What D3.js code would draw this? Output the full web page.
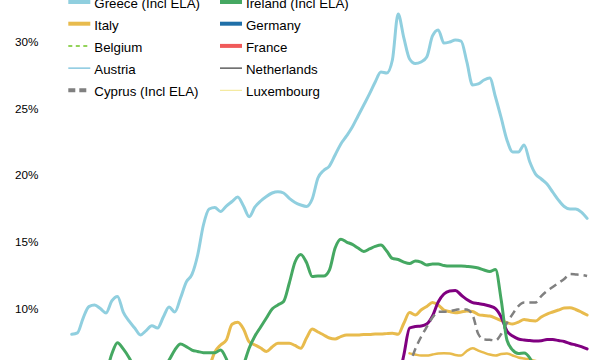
<!DOCTYPE html>
<html><head><meta charset="utf-8">
<script src="https://cdn.jsdelivr.net/npm/d3@7"></script>
<style>html,body{margin:0;padding:0;background:#fff;} svg{display:block;}</style>
</head><body><svg id="chart" width="614" height="360"></svg>
<script>
// ---- data (share of bank assets, %, monthly index) ----
const months = d3.range(0, 91);
const yTicks = [10, 15, 20, 25, 30];

const greeceStart = 0;
const greece = [8.05, 8.16, 9.27, 10.13, 10.25, 9.98, 9.65, 10.55, 10.89, 9.72,
  9.05, 8.52, 8.0, 8.33, 8.69, 8.52, 9.35, 10.1, 9.72, 10.77,
  11.97, 12.54, 14.0, 16.25, 17.45, 17.56, 17.26, 17.67, 18.01, 18.35,
  17.67, 16.87, 17.6, 18.05, 18.39, 18.65, 18.75, 18.65, 18.24, 17.94,
  17.75, 17.64, 18.2, 19.77, 20.34, 20.67, 21.5, 22.33, 22.93, 23.6,
  24.43, 25.25, 26.08, 26.98, 27.73, 27.65, 28.63, 32.08, 30.28, 28.7,
  28.36, 28.48, 28.85, 30.43, 30.88, 29.9, 29.98, 30.13, 30.05, 28.48,
  26.75, 26.83, 27.13, 27.28, 25.85, 24.28, 22.63, 21.73, 21.73, 22.25,
  20.97, 20.07, 19.7, 19.32, 18.72, 18.12, 17.64, 17.45, 17.45, 17.22, 16.75];

const irelandStart = 4;
const ireland = [5.0, 4.9, 5.22, 6.57, 7.42, 6.95, 6.31, 5.52, 5.0, 4.85,
  5.0, 5.37, 5.67, 6.12, 6.87, 7.32, 7.13, 6.87, 6.76, 6.67,
  6.67, 6.67, 6.87, 6.2, 5.0, 4.77, 5.75, 7.02, 7.92, 8.6,
  9.27, 9.95, 10.25, 10.51, 11.9, 13.47, 14.04, 13.44, 12.39, 12.42,
  12.42, 12.87, 14.52, 15.18, 14.97, 14.79, 14.52, 14.26, 14.45, 14.64,
  14.75, 14.3, 13.74, 13.66, 13.47, 13.36, 13.55, 13.47, 13.25, 13.32,
  13.32, 13.21, 13.17, 13.17, 13.17, 13.14, 13.1, 13.02, 12.87, 12.76,
  12.91, 10.62, 7.62, 6.87, 6.61, 6.65, 6.27, 5.37, 5.0, 4.8,
  4.7, 4.6, 4.5, 4.5, 4.4, 4.4, 4.3];

const italyStart = 18;
const italy = [4.2, 4.4, 4.3, 4.5, 4.6, 4.8, 5.6, 6.72, 7.25, 7.62,
  8.8, 8.95, 8.45, 7.47, 7.25, 7.02, 6.76, 7.1, 7.37, 7.37,
  7.37, 7.21, 7.0, 7.77, 8.45, 8.22, 8.0, 7.77, 7.7, 7.88,
  8.0, 8.0, 8.0, 8.03, 8.03, 8.07, 8.07, 8.1, 8.12, 8.05,
  8.88, 9.68, 9.5, 9.87, 10.14, 10.43, 10.25, 9.87, 9.76, 9.67,
  9.72, 9.8, 9.76, 9.53, 9.46, 9.42, 9.27, 9.08, 8.93, 8.82,
  8.97, 9.16, 9.08, 9.05, 9.35, 9.57, 9.72, 9.87, 10.02, 10.04,
  9.91, 9.72, 9.5];

const lowerYellowStart = 59;
const lowerYellow = [6.62, 6.53, 6.46, 6.46, 6.53, 6.61, 6.62, 6.61, 6.5, 6.46,
  6.8, 7.0, 6.83, 6.67, 6.53, 6.46, 6.57, 6.61, 6.46, 6.31,
  6.23, 6.16, 6.05, 5.95, 5.85, 5.8, 5.7, 5.65, 5.6, 5.55, 5.5, 5.45];

const purpleStart = 56;
const purple = [4.0, 4.6, 6.5, 8.52, 8.63, 8.67, 8.82, 9.42, 10.47, 11.07,
  11.3, 11.34, 11.0, 10.66, 10.43, 10.36, 10.28, 10.17, 9.98, 9.35,
  8.3, 7.92, 7.7, 7.62, 7.58, 7.55, 7.57, 7.66, 7.66, 7.58,
  7.51, 7.36, 7.25, 7.13, 6.95];

const cyprusStart = 58;
const cyprus = [4.6, 5.75, 6.95, 7.85, 8.6, 9.31, 9.74, 9.74, 9.8, 9.87,
  9.95, 9.91, 9.5, 8.07, 7.66, 7.64, 7.58, 8.07, 8.9, 9.57,
  10.17, 10.43, 10.43, 10.43, 10.92, 11.3, 11.6, 11.9, 12.2, 12.57,
  12.54, 12.5, 12.42];

const legendCol1 = ["Greece (Incl ELA)", "Italy", "Belgium", "Austria", "Cyprus (Incl ELA)"];
const legendCol2 = ["Ireland (Incl ELA)", "Germany", "France", "Netherlands", "Luxembourg"];

// ---- styles ----
const styles = {
  "Greece (Incl ELA)": {color: "#90cfdf", width: 3, lw: 5},
  "Ireland (Incl ELA)": {color: "#45a862", width: 3, lw: 5},
  "Italy": {color: "#e8bb4d", width: 3, lw: 4},
  "Germany": {color: "#1f6fa8", width: 3, lw: 4},
  "Belgium": {color: "#93d35a", width: 2, lw: 2, dash: "4,4"},
  "France": {color: "#f05a5a", width: 3, lw: 4},
  "Austria": {color: "#4eaed0", width: 1, lw: 1},
  "Netherlands": {color: "#111", width: 1, lw: 1},
  "Cyprus (Incl ELA)": {color: "#808080", width: 2.5, lw: 4, dash: "8,5"},
  "Luxembourg": {color: "#f2e58a", width: 1, lw: 1},
  "Other A": {color: "#e8bb4d", width: 2.5},
  "Other B": {color: "#800080", width: 3}
};

const series = [
  {name: "Greece (Incl ELA)", start: greeceStart, values: greece},
  {name: "Italy", start: italyStart, values: italy},
  {name: "Other A", start: lowerYellowStart, values: lowerYellow},
  {name: "Other B", start: purpleStart, values: purple},
  {name: "Cyprus (Incl ELA)", start: cyprusStart, values: cyprus},
  {name: "Ireland (Incl ELA)", start: irelandStart, values: ireland}
];

// ---- scales ----
const svg = d3.select("#chart");
svg.append("rect").attr("width", 614).attr("height", 360).attr("fill", "#fff");

const x = d3.scaleLinear().domain([0, months.length - 1]).range([71.7, 587.1]);
const y = d3.scaleLinear().domain([0, 30]).range([441.6, 41.7]);

const font = "'Liberation Sans', Arial, sans-serif";

// y axis
const yAxis = d3.axisLeft(y).tickValues(yTicks).tickSize(0).tickPadding(3)
  .tickFormat(d => d + "%");
const gy = svg.append("g").attr("transform", "translate(41.5,0)").call(yAxis);
gy.select(".domain").remove();
gy.selectAll("text").attr("font-family", font).attr("font-size", "11.7px").attr("fill", "#000");

// lines
const line = d3.line()
  .x(d => x(d.i))
  .y(d => y(d.v))
  .curve(d3.curveMonotoneX);

series.forEach(s => {
  const st = styles[s.name];
  const pts = s.values.map((v, k) => ({i: months[s.start + k], v}));
  svg.append("path")
    .datum(pts)
    .attr("d", line)
    .attr("fill", "none")
    .attr("stroke", st.color)
    .attr("stroke-width", st.width)
    .attr("stroke-linejoin", "round")
    .attr("stroke-linecap", st.dash ? "butt" : "round")
    .attr("stroke-dasharray", st.dash || null);
});

// legend
const rowY = k => 1.5 + 22.2 * k;
function drawLegend(names, x0) {
  names.forEach((n, k) => {
    const st = styles[n];
    const g = svg.append("g").attr("transform", `translate(${x0},${rowY(k)})`);
    g.append("line").attr("x1", 0).attr("x2", 22).attr("y1", 0).attr("y2", 0)
      .attr("stroke", st.color).attr("stroke-width", st.lw)
      .attr("stroke-dasharray", st.dash ? (n === "Belgium" ? "4,3.5" : "7,4") : null);
    g.append("text").attr("x", 26).attr("y", 6).text(n)
      .attr("font-family", font).attr("font-size", "13.3px").attr("fill", "#000");
  });
}
drawLegend(legendCol1, 68.3);
drawLegend(legendCol2, 220);
</script></body></html>
